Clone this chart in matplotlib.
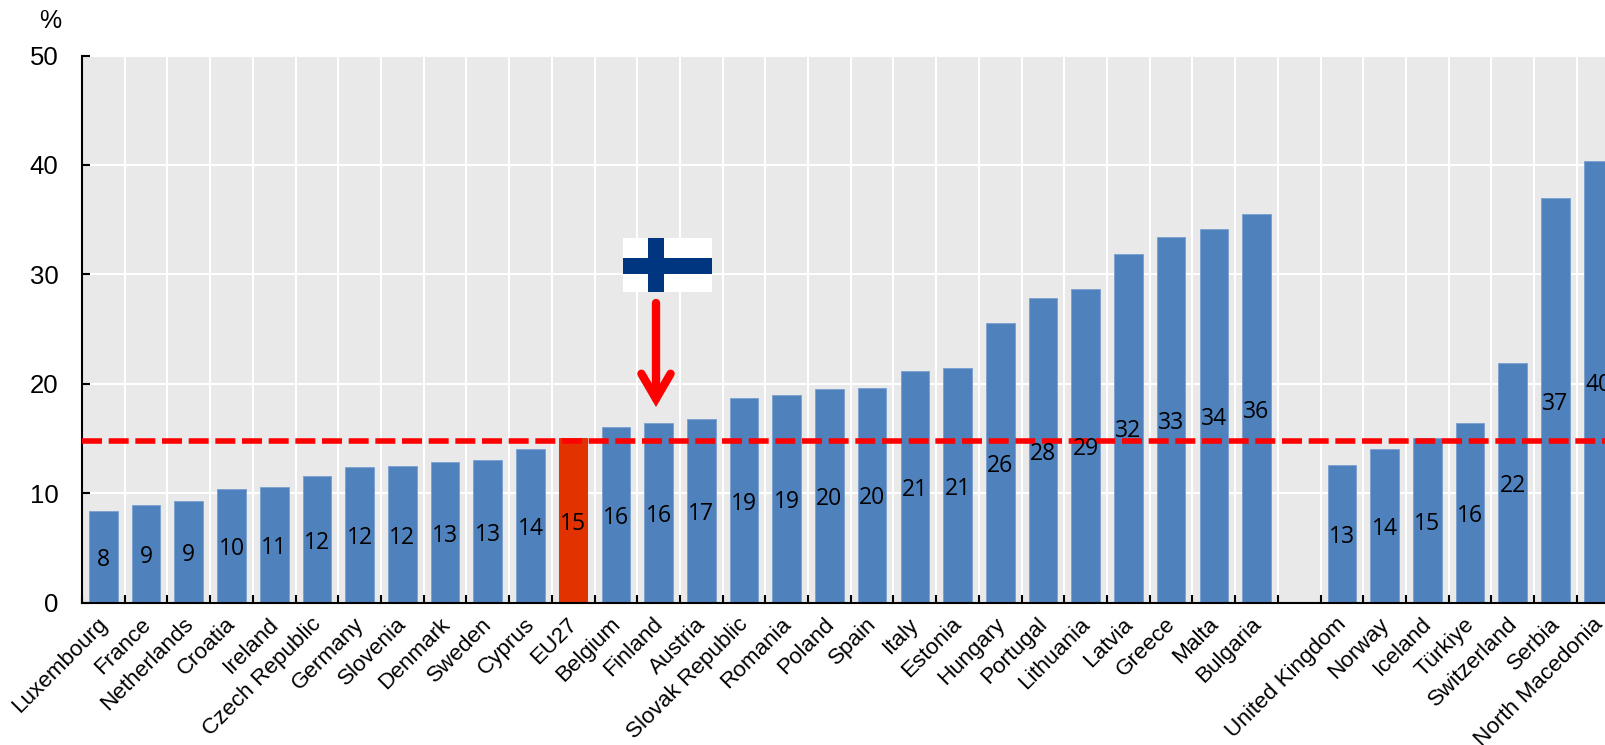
import matplotlib
matplotlib.use('Agg')
import matplotlib.pyplot as plt
from matplotlib.patches import Rectangle

countries = ['Luxembourg', 'France', 'Netherlands', 'Croatia', 'Ireland', 'Czech Republic',
             'Germany', 'Slovenia', 'Denmark', 'Sweden', 'Cyprus', 'EU27', 'Belgium',
             'Finland', 'Austria', 'Slovak Republic', 'Romania', 'Poland', 'Spain', 'Italy',
             'Estonia', 'Hungary', 'Portugal', 'Lithuania', 'Latvia', 'Greece', 'Malta',
             'Bulgaria', '', 'United Kingdom', 'Norway', 'Iceland', 'Türkiye', 'Switzerland',
             'Serbia', 'North Macedonia']
values = [8.4, 8.9, 9.3, 10.4, 10.55, 11.55, 12.4, 12.45, 12.85, 13.0, 14.0, 15.0, 16.0,
          16.4, 16.8, 18.7, 19.0, 19.55, 19.65, 21.2, 21.4, 25.55, 27.8, 28.7, 31.9, 33.4, 34.1,
          35.55, None, 12.55, 14.0, 15.0, 16.4, 21.9, 37.0, 40.4]
eu_average = 14.8
y_ticks = [0, 10, 20, 30, 40, 50]

W, H = 1606, 745
BLUE = '#4F81BD'
RED = '#E23200'
FLAG_BLUE = '#003580'
NARROW = ['Liberation Sans Narrow', 'Liberation Sans']


def fx(x):
    return x / W


def fy(y):
    return 1 - y / H


fig = plt.figure(figsize=(W / 100, H / 100), dpi=100)
step = 42.71
ax = fig.add_axes([fx(82), fy(602.5), step * len(countries) / W, 547 / H])
ax.set_facecolor('#E9E9E9')
ax.set_xlim(-0.5, len(countries) - 0.5)
ax.set_ylim(0, 50)

# bars, EU27 picked out in red
for i, (name, v) in enumerate(zip(countries, values)):
    if v is None:
        continue
    ax.bar(i, v, width=0.67, color=RED if name == 'EU27' else BLUE,
           edgecolor='#7FA3D0' if name != 'EU27' else RED, linewidth=0.7, zorder=2)

ax.axhline(eu_average, color='#FF0000', linewidth=4, dashes=(3.6, 1.2),
           dash_capstyle='butt', zorder=3)

for i, v in enumerate(values):
    if v is not None:
        ax.annotate(f'{v:.0f}', xy=(i, v / 2), xytext=(0, -2.5), textcoords='offset points',
                    ha='center', va='center', fontsize=16.5, family='Open Sans',
                    color='black', zorder=4)

# white grid sits on the category boundaries
ax.set_xticks([i - 0.5 for i in range(len(countries) + 1)], minor=True)
ax.set_xticks(range(len(countries)))
ax.set_xticklabels([])
for i, name in enumerate(countries):
    ax.annotate(name, xy=(i, 0), xytext=(-4.4, -8), textcoords='offset points',
                rotation=45, ha='right', va='top', rotation_mode='anchor',
                fontsize=16.2, family='Liberation Sans', annotation_clip=False)
ax.set_yticks(y_ticks)
ax.set_yticklabels(y_ticks, fontsize=18.5, family=NARROW)
ax.grid(which='minor', axis='x', color='white', linewidth=1.5, zorder=1)
ax.grid(which='major', axis='y', color='white', linewidth=1.5, zorder=1)
ax.set_axisbelow(True)
ax.tick_params(axis='x', which='major', length=0)
ax.tick_params(axis='x', which='minor', direction='in', length=5.5, width=1.5)
ax.tick_params(axis='y', direction='in', length=6, width=1.5, pad=17)
for side in ['top', 'right']:
    ax.spines[side].set_visible(False)
for side in ['left', 'bottom']:
    ax.spines[side].set_linewidth(1.5)

fig.text(fx(50), fy(21), '%', ha='center', va='center', fontsize=18, family=NARROW)

# Finnish flag
fig.add_artist(Rectangle((fx(623), fy(292)), 89 / W, 54 / H, transform=fig.transFigure,
                         facecolor='white', edgecolor='none', zorder=5))
fig.add_artist(Rectangle((fx(648), fy(292)), 16.5 / W, 54 / H, transform=fig.transFigure,
                         facecolor=FLAG_BLUE, edgecolor='none', zorder=6))
fig.add_artist(Rectangle((fx(623), fy(274)), 89 / W, 16 / H, transform=fig.transFigure,
                         facecolor=FLAG_BLUE, edgecolor='none', zorder=6))

# arrow pointing down at Finland
ax.annotate('', xy=(fx(656), fy(407)), xytext=(fx(656), fy(303)),
            xycoords='figure fraction', textcoords='figure fraction',
            arrowprops=dict(arrowstyle='->,head_length=1.8,head_width=1.05', color='#FF0000',
                            linewidth=6, shrinkA=0, shrinkB=0, capstyle='round',
                            joinstyle='miter'),
            zorder=6)

fig.savefig('out.png', dpi=100)
